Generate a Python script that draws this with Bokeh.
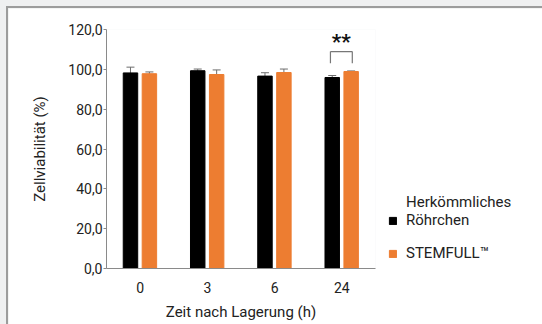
from bokeh.plotting import figure
from bokeh.layouts import column
from bokeh.models import (ColumnDataSource, FactorRange, FixedTicker, Whisker, TeeHead,
                          Legend, LegendItem)
from bokeh.transform import dodge
from bokeh.core.properties import value
from bokeh.embed import file_html
from bokeh.resources import INLINE

# ---- data ----
times = ["0", "3", "6", "24"]
conventional = [98.2, 99.3, 96.6, 95.9]
conventional_err = [2.9, 0.85, 1.7, 1.0]
stemfull = [97.8, 97.4, 98.4, 98.9]
stemfull_err = [0.9, 2.3, 1.75, 0.3]
y_ticks = [0, 20, 40, 60, 80, 100, 120]
y_tick_labels = ["0,0", "20,0", "40,0", "60,0", "80,0", "100,0", "120,0"]
sig_group = ["24"]
sig_label = ["**"]

FONT = "Roboto"
BLACK = "#000000"
ORANGE = "#ED7D31"
AXIS = "#8a8a8a"
TEXT = "#222222"

src = ColumnDataSource(dict(
    t=times, a=conventional,
    a_lo=[v - e for v, e in zip(conventional, conventional_err)],
    a_hi=[v + e for v, e in zip(conventional, conventional_err)],
    b=stemfull,
    b_lo=[v - e for v, e in zip(stemfull, stemfull_err)],
    b_hi=[v + e for v, e in zip(stemfull, stemfull_err)],
))

p = figure(x_range=FactorRange(factors=times), y_range=(0, 120),
           frame_width=267, frame_height=237,
           min_border_left=98, min_border_right=172, min_border_top=21, min_border_bottom=60,
           output_backend="svg", toolbar_location=None, tools="")
p.x_range.range_padding = 0
p.grid.visible = False
p.outline_line_color = None
p.background_fill_color = "white"
p.border_fill_color = "white"
p.margin = (6, 0, 0, 6)
p.styles = {"border-left": "2px solid #9c9c9c", "border-top": "2px solid #9c9c9c"}

OFF_A, OFF_B, W = -0.1435, 0.138, 0.215
ra = p.vbar(x=dodge("t", OFF_A, range=p.x_range), top="a", width=W, source=src,
            fill_color=BLACK, line_color=BLACK)
rb = p.vbar(x=dodge("t", OFF_B, range=p.x_range), top="b", width=W, source=src,
            fill_color=ORANGE, line_color=ORANGE)

for off, lo, hi in [(OFF_A, "a_lo", "a_hi"), (OFF_B, "b_lo", "b_hi")]:
    w = Whisker(base=dodge("t", off, range=p.x_range), lower=lo, upper=hi, source=src,
                line_color="#6e6e6e", line_width=1,
                upper_head=TeeHead(size=8, line_color="#6e6e6e", line_width=1),
                lower_head=TeeHead(size=8, line_color="#6e6e6e", line_width=1))
    p.add_layout(w)

# significance bracket, placed above the highest bar of the group
i24 = times.index(sig_group[0])
top_val = max(conventional[i24] + conventional_err[i24], stemfull[i24] + stemfull_err[i24])
bsrc = ColumnDataSource(dict(g=sig_group, ytop=[top_val + 9.7], yleg=[top_val + 3.9],
                             ytxt=[top_val + 14.6], lab=sig_label))
x_l = dodge("g", -0.17, range=p.x_range)
x_r = dodge("g", 0.155, range=p.x_range)
p.segment(x0=x_l, y0="ytop", x1=x_r, y1="ytop", source=bsrc, line_color="#777777", line_width=1.2)
p.segment(x0=x_l, y0="yleg", x1=x_l, y1="ytop", source=bsrc, line_color="#777777", line_width=1.2)
p.segment(x0=x_r, y0="yleg", x1=x_r, y1="ytop", source=bsrc, line_color="#777777", line_width=1.2)
p.text(x=dodge("g", -0.01, range=p.x_range), y="ytxt", text="lab", source=bsrc,
       text_font=value(FONT), text_font_size="21px", text_font_style="bold",
       text_align="center", text_baseline="middle", text_color="#111111")

# axes
p.yaxis.ticker = FixedTicker(ticks=y_ticks)
p.yaxis.major_label_overrides = {t: l for t, l in zip(y_ticks, y_tick_labels)}
p.yaxis.axis_label = "Zellviabilität (%)"
p.xaxis.axis_label = "Zeit nach Lagerung (h)"
for ax in (p.xaxis, p.yaxis):
    ax.axis_line_color = AXIS
    ax.axis_line_width = 1
    ax.major_tick_line_color = AXIS
    ax.minor_tick_line_color = None
    ax.major_label_text_font = FONT
    ax.major_label_text_font_size = "14px"
    ax.major_label_text_color = TEXT
    ax.axis_label_text_font = FONT
    ax.axis_label_text_font_size = "15px"
    ax.axis_label_text_font_style = "normal"
    ax.axis_label_text_color = TEXT
p.yaxis.major_tick_out = 3
p.yaxis.major_tick_in = 0
p.yaxis.major_label_standoff = 1
p.yaxis.axis_label_standoff = 16
p.xaxis.major_tick_out = 0
p.xaxis.major_tick_in = 0
p.xaxis.major_label_standoff = 13
p.xaxis.axis_label_standoff = 7

# legend (in the right-hand panel)
dummy = p.vbar(x=[], top=[], width=0.1, fill_alpha=0, line_alpha=0)
legend = Legend(items=[LegendItem(label="Herkömmliches", renderers=[dummy]),
                       LegendItem(label="Röhrchen", renderers=[ra]),
                       LegendItem(label=" ", renderers=[dummy]),
                       LegendItem(label="STEMFULL™", renderers=[rb])],
                location=(13, 6), orientation="vertical",
                padding=0, margin=0, spacing=0, border_line_color=None,
                background_fill_alpha=0, glyph_width=9, glyph_height=9,
                label_height=15, label_standoff=9,
                label_text_font=FONT, label_text_font_size="15px",
                label_text_color=TEXT)
p.add_layout(legend, "right")

page = column(p, styles={"background-color": "#eff0f1"})
open("out.html", "w").write(file_html(page, INLINE))
